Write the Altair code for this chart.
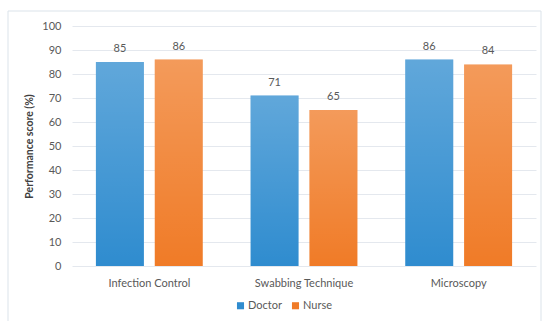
import altair as alt
import pandas as pd

# Performance scores by skill area and staff group
categories = ["Infection Control", "Swabbing Technique", "Microscopy"]
groups = ["Doctor", "Nurse"]
doctor_scores = [85, 71, 86]
nurse_scores = [86, 65, 84]
group_colors = ["#2f8ccf", "#f07b27"]
y_ticks = [0, 10, 20, 30, 40, 50, 60, 70, 80, 90, 100]

rows = []
for cat, d, n in zip(categories, doctor_scores, nurse_scores):
    rows.append({"category": cat, "group": "Doctor", "score": d})
    rows.append({"category": cat, "group": "Nurse", "score": n})
df = pd.DataFrame(rows)

FONT = "Lato"
TEXT = "#595959"

x_enc = alt.X(
    "category:N",
    sort=categories,
    scale=alt.Scale(paddingInner=0, paddingOuter=0),
    axis=alt.Axis(
        title=None, labelAngle=0, domain=False, ticks=False,
        labelPadding=11, labelFontSize=11, labelColor=TEXT, labelFont=FONT,
    ),
)
xoff_enc = alt.XOffset(
    "group:N",
    sort=groups,
    scale=alt.Scale(domain=groups, paddingInner=0.186, paddingOuter=0.407),
)
y_enc = alt.Y(
    "score:Q",
    scale=alt.Scale(domain=[0, 100], nice=False),
    axis=alt.Axis(
        values=y_ticks, tickCount=11, labelOverlap=False,
        title="Performance score (%)", titleFontSize=10.5,
        titleFontWeight="bold", titleColor="#404040", titleFont=FONT,
        titlePadding=7, domain=False, ticks=False, labelPadding=11,
        labelFontSize=11, labelColor=TEXT, labelFont=FONT,
        gridColor="#e4e8ee", gridWidth=1,
    ),
)

base = alt.Chart(df)

bars = base.mark_bar(size=48).encode(
    x=x_enc,
    xOffset=xoff_enc,
    y=y_enc,
    color=alt.Color(
        "group:N",
        scale=alt.Scale(domain=groups, range=group_colors),
        legend=alt.Legend(
            title=None, orient="none", direction="horizontal",
            legendX=163, legendY=274, symbolType="square", symbolSize=50,
            symbolStrokeWidth=0, labelFontSize=11, labelColor=TEXT,
            labelFont=FONT, columnPadding=8, labelOffset=2,
        ),
    ),
)

# soft highlight towards the top of each bar
sheen = base.mark_bar(size=48).encode(
    x=x_enc,
    xOffset=xoff_enc,
    y=y_enc,
    fill=alt.value({
        "gradient": "linear", "x1": 0, "y1": 0, "x2": 0, "y2": 1,
        "stops": [
            {"offset": 0, "color": "rgba(255,255,255,0.24)"},
            {"offset": 1, "color": "rgba(255,255,255,0)"},
        ],
    }),
)

labels = base.mark_text(
    dy=-8, baseline="bottom", fontSize=11, color=TEXT, font=FONT
).encode(
    x=x_enc,
    xOffset=xoff_enc,
    y=y_enc,
    text=alt.Text("score:Q"),
)

frame = alt.Chart(pd.DataFrame({"k": [0]})).mark_rect(
    fill=None, stroke="#dbe3ea", strokeWidth=1
).encode(
    x=alt.value(-64), x2=alt.value(469), y=alt.value(-15), y2=alt.value(310)
)

chart = (
    alt.layer(frame, bars, sheen, labels)
    .properties(
        width=464, height=240,
        padding={"left": 72, "top": 26, "right": 11, "bottom": 55},
        autosize=alt.AutoSizeParams(type="none"),
        background="white",
    )
    .configure_view(stroke=None)
)

chart.save("out.html", embed_options={"renderer": "svg", "actions": False})
